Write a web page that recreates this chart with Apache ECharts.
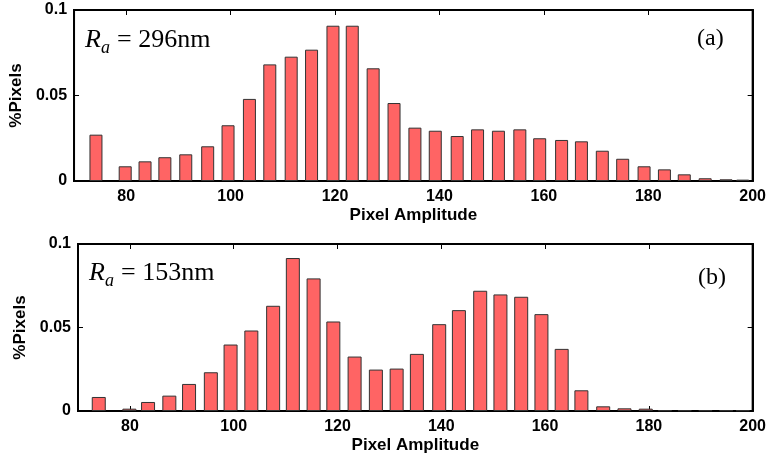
<!DOCTYPE html>
<html>
<head>
<meta charset="utf-8">
<script src="https://cdn.jsdelivr.net/npm/echarts@6/dist/echarts.min.js"></script>
<style>
  html, body { margin: 0; padding: 0; background: #fff; }
  #main { width: 769px; height: 459px; }
</style>
</head>
<body>
<div id="main"></div>
<script>
// bin centres and heights
var binsA = [74.2, 79.8, 83.6, 87.4, 91.4, 95.6, 99.5, 103.6, 107.5, 111.6, 115.5, 119.6, 123.3, 127.3, 131.3, 135.3,
  139.2, 143.4, 147.3, 151.3, 155.4, 159.2, 163.4, 167.2, 171.2, 175.1, 179.2, 183.1, 186.9, 190.9, 194.9, 198.1];
var pixelsA = [0.0271, 0.0086, 0.0115, 0.0139, 0.0156, 0.0203, 0.0326, 0.048, 0.0682, 0.0727, 0.0768, 0.0908, 0.0908, 0.0659, 0.0456, 0.0312,
  0.0294, 0.0263, 0.0302, 0.0294, 0.0302, 0.025, 0.024, 0.0232, 0.0177, 0.013, 0.0086, 0.0068, 0.0039, 0.0016, 0.001, 0.0008];

var binsB = [74.0, 79.9, 83.5, 87.6, 91.4, 95.6, 99.4, 103.4, 107.6, 111.4, 115.4, 119.2, 123.3, 127.4, 131.4, 135.3,
  139.6, 143.4, 147.5, 151.4, 155.4, 159.3, 163.2, 167.0, 171.2, 175.3, 179.4, 183.1, 186.9, 190.9, 194.9, 198.1];
var pixelsB = [0.0084, 0.0014, 0.0054, 0.0092, 0.0162, 0.0232, 0.0398, 0.0482, 0.063, 0.0916, 0.0794, 0.0536, 0.0326, 0.0248, 0.0254, 0.0342,
  0.052, 0.0604, 0.072, 0.0698, 0.0684, 0.058, 0.0372, 0.0124, 0.0028, 0.0016, 0.0014, 0.0004, 0.0004, 0.0004, 0.0004, 0.0004];

var xTicks = [80, 100, 120, 140, 160, 180, 200];
var labelsA = ['296nm', '(a)'];
var labelsB = ['153nm', '(b)'];

var chart = echarts.init(document.getElementById('main'));

var sans = '"Liberation Sans", Arial, sans-serif';
var serif = '"Liberation Serif", "Times New Roman", serif';

function pairs(xs, ys) {
  var out = [];
  for (var i = 0; i < xs.length; i++) out.push([xs[i], ys[i]]);
  return out;
}

function xAxes(grid, pos) {
  var a = {
    type: 'value', gridIndex: grid, position: pos, min: 70, max: 200,
    axisLine: {show: true, onZero: false, lineStyle: {color: '#000', width: 2}},
    axisTick: {show: true, inside: true, length: 5, customValues: xTicks, lineStyle: {color: '#000', width: 1}},
    splitLine: {show: false},
    axisLabel: {show: false}
  };
  if (pos === 'bottom') {
    a.axisLabel = {show: true, customValues: xTicks, margin: 8, color: '#000', fontFamily: sans, fontWeight: 'bold', fontSize: 16};
    a.name = 'Pixel Amplitude';
    a.nameLocation = 'middle';
    a.nameGap = 26;
    a.nameTextStyle = {color: '#000', fontFamily: sans, fontWeight: 'bold', fontSize: 17};
  }
  return a;
}

function yAxes(grid, pos, gap) {
  var a = {
    type: 'value', gridIndex: grid, position: pos, min: 0, max: 0.1, interval: 0.05,
    axisLine: {show: true, lineStyle: {color: '#000', width: 2}},
    axisTick: {show: true, inside: true, length: 5, lineStyle: {color: '#000', width: 1}},
    splitLine: {show: false},
    axisLabel: {show: false}
  };
  if (pos === 'left') {
    a.axisLabel = {show: true, margin: 7, color: '#000', fontFamily: sans, fontWeight: 'bold', fontSize: 16};
    a.name = '%Pixels';
    a.nameLocation = 'middle';
    a.nameGap = gap;
    a.nameTextStyle = {color: '#000', fontFamily: sans, fontWeight: 'bold', fontSize: 17};
  }
  return a;
}

function barSeries(idx, bins, vals, w) {
  return {
    type: 'bar', xAxisIndex: idx, yAxisIndex: idx,
    data: pairs(bins, vals),
    barWidth: w,
    itemStyle: {color: '#ff6464', borderColor: '#333', borderWidth: 1},
    emphasis: {disabled: true},
    animation: false
  };
}

function raText(x, y, txt) {
  return [
    {type: 'text', left: x, top: y, style: {text: 'R', font: 'italic 26px ' + serif, fill: '#000'}},
    {type: 'text', left: x + 16, top: y + 12, style: {text: 'a', font: 'italic 18px ' + serif, fill: '#000'}},
    {type: 'text', left: x + 32, top: y, style: {text: '= ' + txt, font: '26px ' + serif, fill: '#000'}}
  ];
}

var graphics = []
  .concat(raText(85, 27, labelsA[0]))
  .concat(raText(89, 260, labelsB[0]))
  .concat([
    {type: 'text', left: 697, top: 27, style: {text: labelsA[1], font: '24px ' + serif, fill: '#000'}},
    {type: 'text', left: 698, top: 266, style: {text: labelsB[1], font: '24px ' + serif, fill: '#000'}}
  ]);

chart.setOption({
  animation: false,
  backgroundColor: '#fff',
  grid: [
    {left: 73, right: 14, top: 10, height: 171, show: true, borderColor: '#000', borderWidth: 2, backgroundColor: 'transparent'},
    {left: 78, right: 12, top: 244, height: 167, show: true, borderColor: '#000', borderWidth: 2, backgroundColor: 'transparent'}
  ],
  xAxis: [xAxes(0, 'bottom'), xAxes(1, 'bottom'), xAxes(0, 'top'), xAxes(1, 'top')],
  yAxis: [yAxes(0, 'left', 46), yAxes(1, 'left', 49), yAxes(0, 'right'), yAxes(1, 'right')],
  series: [barSeries(0, binsA, pixelsA, 13), barSeries(1, binsB, pixelsB, 14)],
  graphic: graphics
});
</script>
</body>
</html>
